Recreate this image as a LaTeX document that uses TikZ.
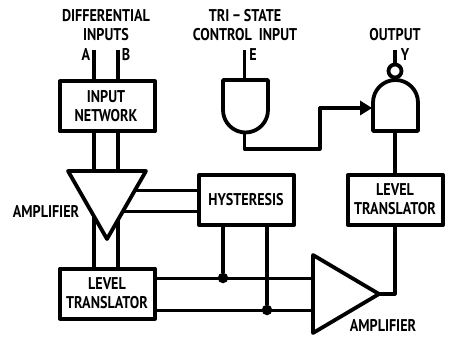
\documentclass[tikz,border=0pt]{standalone}
\usepackage{fontspec}
\setmainfont{PT Sans}
\usetikzlibrary{arrows.meta,calc}
\tikzset{
  blockbox/.style={draw,line width=4pt,fill=white,minimum width=95pt,minimum height=50pt,inner sep=0pt,line join=round},
  gateline/.style={draw,line width=3.8pt,fill=white,line join=round},
  wire/.style={line width=3.2pt,line join=round},
  thinwire/.style={line width=3pt},
  lbl/.style={font=\fontsize{17}{17}\bfseries\selectfont,inner sep=0pt,xscale=0.83,transform shape,anchor=center},
  junction/.style={circle,fill=black,minimum size=10.5pt,inner sep=0pt}
}
\begin{document}
\begin{tikzpicture}[x=1pt,y=-1pt]
\useasboundingbox (0,0) rectangle (476,339);
% pins
\coordinate (pinA) at (94,50);
\coordinate (pinB) at (118,50);
\coordinate (pinE) at (244.5,50);
\coordinate (pinY) at (395,50);
\coordinate (tl) at (68,171);
\coordinate (tr) at (146,171);
\coordinate (tip) at (107,239);
\coordinate (al) at (313,255);
\coordinate (ab) at (313,333);
\coordinate (atip) at (379,294);
\coordinate (andOut) at (244.5,132);
\coordinate (nandIn) at (365,108);
\coordinate (nandBot) at (395,131);
\coordinate (bendA) at (244.5,149);
\coordinate (bendB) at (320,149);
\coordinate (ampR) at (395,294);
\coordinate (t1) at (124,211);
\coordinate (t2) at (136,190);
\node[blockbox] (input) at (107.5,106.5) {};
\node[blockbox] (hyst) at (246.5,200) {};
\node[blockbox] (lvlL) at (107.5,293.5) {};
\node[blockbox] (lvlR) at (395.5,200) {};
% wires
\draw[wire] (pinA) -- (pinA |- input.north);
\draw[wire] (pinB) -- (pinB |- input.north);
\draw[wire] (pinE) -- (pinE |- 0,80);
\draw[wire] (pinA |- input.south) -- (pinA |- lvlL.north);
\draw[wire] (pinB |- input.south) -- (pinB |- lvlL.north);
\draw[thinwire] (t2) -- (t2 -| hyst.west);
\draw[thinwire] (t1) -- (t1 -| hyst.west);
\node[junction] (j1) at (223,278) {};
\node[junction] (j2) at (267,310) {};
\draw[wire] (j1 |- hyst.south) -- (j1);
\draw[wire] (j2 |- hyst.south) -- (j2);
\draw[thinwire] (j1 -| lvlL.east) -- (j1 -| al);
\draw[thinwire] (j2 -| lvlL.east) -- (j2 -| al);
\draw[wire] (atip) -- (ampR) -- (ampR |- lvlR.south);
\draw[wire] (nandBot) -- (nandBot |- lvlR.north);
\draw[wire] (andOut) -- (bendA) -- (bendB) |- (nandIn);
\draw[wire] (pinY) -- (395,64);
% triangles
\draw[gateline] (tl) -- (tr) -- (tip) -- cycle;
\draw[gateline] (al) -- (atip) -- (ab) -- cycle;
% gates
\draw[gateline] (223,80) -- (268,80) -- (268,110) arc[start angle=0,end angle=180,x radius=22.5,y radius=22.5] -- cycle;
\draw[gateline] (373,131) -- (418,131) -- (418,102.5) arc[start angle=0,end angle=180,x radius=22.5,y radius=-22.5] -- cycle;
\draw[gateline] (395,71) circle[radius=6.5];
% arrowhead
\fill (372,108) -- (360,100.5) -- (360,115.5) -- cycle;
% labels
\node[lbl] (tDiff) at (106,16) {DIFFERENTIAL};
\node[lbl] (tInp) at (106,35) {INPUTS};
\node[lbl] (tA) at (86,55) {A};
\node[lbl] (tB) at (126,55) {B};
\node[lbl] (tTri) at (245,16) {TRI − STATE};
\node[lbl] (tCtl) at (245,35) {CONTROL\ \ INPUT};
\node[lbl] (tE) at (253,55) {E};
\node[lbl] (tOut) at (395,35) {OUTPUT};
\node[lbl] (tY) at (405,55) {Y};
\node[lbl] (tI1) at (106,97) {INPUT};
\node[lbl] (tI2) at (106,116) {NETWORK};
\node[lbl] (tH) at (246,200) {HYSTERESIS};
\node[lbl] (tL1) at (107,284) {LEVEL};
\node[lbl] (tL2) at (107,303) {TRANSLATOR};
\node[lbl] (tR1) at (395,190) {LEVEL};
\node[lbl] (tR2) at (395,209) {TRANSLATOR};
\node[lbl] (tAmp1) at (46,211) {AMPLIFIER};
\node[lbl] (tAmp2) at (383,325) {AMPLIFIER};
\end{tikzpicture}
\end{document}
